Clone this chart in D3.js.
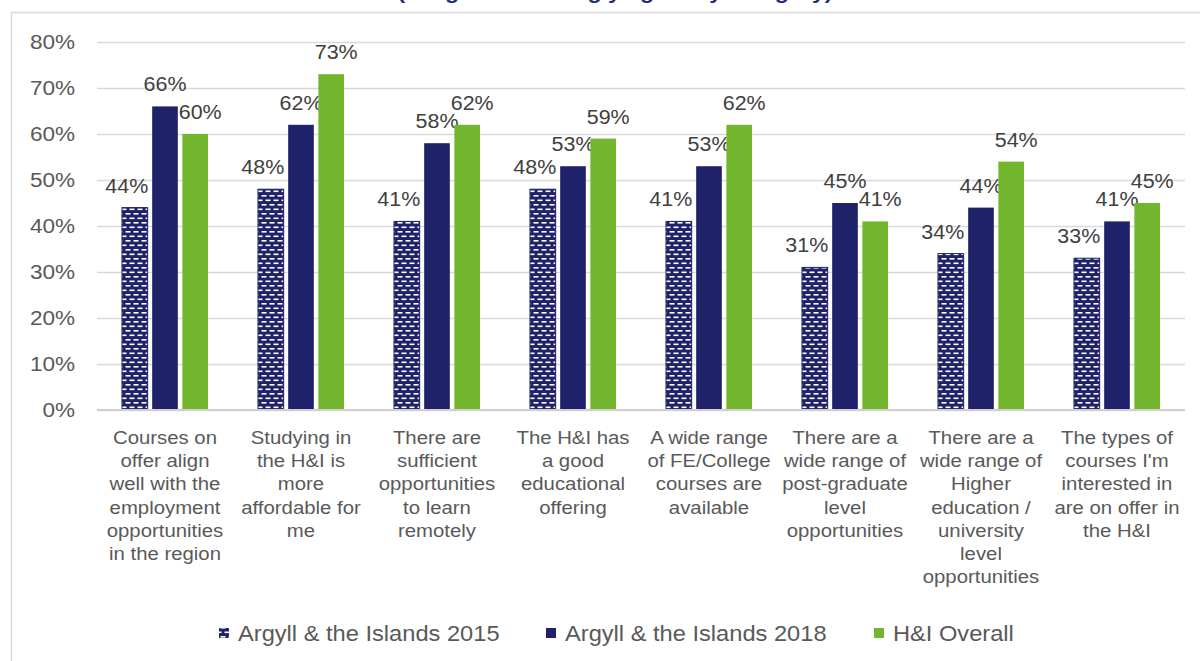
<!DOCTYPE html>
<html>
<head>
<meta charset="utf-8">
<script src="https://cdn.jsdelivr.net/npm/d3@7/dist/d3.min.js"></script>
<style>
  html, body { margin: 0; padding: 0; background: #fff; }
  svg { display: block; font-family: "Liberation Sans", Arial, Helvetica, sans-serif; }
</style>
</head>
<body>
<svg id="chart" width="1200" height="661"></svg>
<script>
// Survey categories, each label pre-wrapped into lines
const categories = [
  ["Courses on", "offer align", "well with the", "employment", "opportunities", "in the region"],
  ["Studying in", "the H&I is", "more", "affordable for", "me"],
  ["There are", "sufficient", "opportunities", "to learn", "remotely"],
  ["The H&I has", "a good", "educational", "offering"],
  ["A wide range", "of FE/College", "courses are", "available"],
  ["There are a", "wide range of", "post-graduate", "level", "opportunities"],
  ["There are a", "wide range of", "Higher", "education /", "university", "level", "opportunities"],
  ["The types of", "courses I'm", "interested in", "are on offer in", "the H&I"]
];

const seriesNames = ["Argyll & the Islands 2015", "Argyll & the Islands 2018", "H&I Overall"];

// Share agreeing, in percent
const argyll2015 = [44, 48, 41, 48, 41, 31, 34, 33];
const argyll2018 = [66, 62, 58, 53, 53, 45, 44, 41];
const hiOverall  = [60, 73, 62, 59, 62, 41, 54, 45];

const yTicks = [0, 10, 20, 30, 40, 50, 60, 70, 80];

const titleText = "(% agree or strongly agree by category)";

const NAVY = "#1F2268";
const GREEN = "#72B62E";
const GRID = "#D9D9D9";
const AXIS_TEXT = "#595959";
const LABEL_TEXT = "#404040";
const STRETCH = 1.1;

const svg = d3.select("#chart");

// Brick-dash fill for the 2015 series
const defs = svg.append("defs");
const pat = defs.append("pattern")
  .attr("id", "dashFill")
  .attr("patternUnits", "userSpaceOnUse")
  .attr("width", 8).attr("height", 9);
pat.append("rect").attr("width", 8).attr("height", 9).attr("fill", NAVY);
[[0.5, 1.5], [4.5, 6], [-3.5, 6]].forEach(([px, py]) => {
  pat.append("rect").attr("x", px).attr("y", py)
    .attr("width", 5).attr("height", 1.6).attr("fill", "#fff");
});

const fills = ["url(#dashFill)", NAVY, GREEN];
const seriesValues = [argyll2015, argyll2018, hiOverall];

// Title sits above the frame
svg.append("text")
  .attr("x", 615).attr("y", -1)
  .attr("text-anchor", "middle")
  .attr("font-size", 21).attr("font-weight", "bold")
  .attr("fill", "#1F2C7C")
  .text(titleText);

// Chart frame
svg.append("path")
  .attr("d", "M11.5,661 V12.5 H1200")
  .attr("fill", "none").attr("stroke", GRID).attr("stroke-width", 1.5);

const plotLeft = 97, plotRight = 1185;
const y = d3.scaleLinear().domain([0, 80]).range([410, 42]);

const x0 = d3.scaleBand()
  .domain(d3.range(categories.length))
  .range([plotLeft, plotRight]);

const x1 = d3.scaleBand()
  .domain(d3.range(seriesNames.length))
  .range([25, x0.bandwidth() - 25])
  .paddingInner(0.15);

// Y axis with gridlines
const yAxis = d3.axisLeft(y)
  .tickValues(yTicks)
  .tickFormat(d => d + "%")
  .tickSize(-(plotRight - plotLeft))
  .tickPadding(22);

const gy = svg.append("g")
  .attr("transform", `translate(${plotLeft},0)`)
  .call(yAxis);
gy.select(".domain").remove();
gy.selectAll(".tick line")
  .attr("stroke", GRID).attr("stroke-width", 1.5);
gy.selectAll(".tick text")
  .attr("font-size", 20.5)
  .attr("fill", AXIS_TEXT)
  .attr("font-family", "Liberation Sans, Arial, sans-serif");

// Bars
const groups = svg.append("g").selectAll("g")
  .data(categories)
  .join("g")
  .attr("transform", (d, i) => `translate(${x0(i)},0)`);

const labelShift = [-8, 0, 5];

groups.each(function(cat, ci) {
  const g = d3.select(this);
  seriesValues.forEach((vals, si) => {
    const v = vals[ci];
    g.append("rect")
      .attr("x", x1(si))
      .attr("y", y(v))
      .attr("width", x1.bandwidth())
      .attr("height", y(0) - y(v))
      .attr("fill", fills[si])
      .attr("stroke", si === 0 ? NAVY : "none")
      .attr("stroke-width", 1);
    g.append("text")
      .attr("class", "value")
      .attr("x", x1(si) + x1.bandwidth() / 2 + labelShift[si])
      .attr("y", y(v) - 15)
      .attr("text-anchor", "middle")
      .attr("font-size", 19.5)
      .attr("fill", LABEL_TEXT)
      .text(v + "%");
  });
  // Category label lines
  cat.forEach((line, li) => {
    g.append("text")
      .attr("x", x0.bandwidth() / 2)
      .attr("y", 444 + li * 23.2)
      .attr("text-anchor", "middle")
      .attr("font-size", 18.5)
      .attr("fill", AXIS_TEXT)
      .text(line);
  });
});

// Zero baseline
svg.append("line")
  .attr("x1", plotLeft).attr("x2", plotRight)
  .attr("y1", y(0)).attr("y2", y(0))
  .attr("stroke", "#D0D0D0").attr("stroke-width", 2);

// Legend
const legendX = [219, 546, 874];
const legend = svg.append("g");
seriesNames.forEach((name, si) => {
  legend.append("rect")
    .attr("x", legendX[si]).attr("y", 628)
    .attr("width", 10).attr("height", 10)
    .attr("fill", fills[si]);
  legend.append("text")
    .attr("x", legendX[si] + 19).attr("y", 641)
    .attr("font-size", 21.5)
    .attr("fill", AXIS_TEXT)
    .text(name);
});

// Slightly widen glyphs horizontally around each text's own anchor
svg.selectAll("text").each(function() {
  const t = d3.select(this);
  const ax = +t.attr("x") || 0;
  t.attr("transform", `translate(${ax},0) scale(${STRETCH},1) translate(${-ax},0)`);
});
</script>
</body>
</html>
